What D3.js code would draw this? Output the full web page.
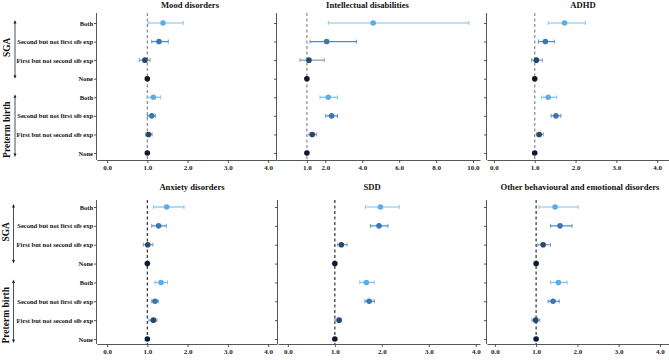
<!DOCTYPE html>
<html><head><meta charset="utf-8">
<script src="https://cdn.jsdelivr.net/npm/d3@7"></script>
<style>
body{margin:0;background:#fff;}
svg{display:block;font-family:"Liberation Serif","Times New Roman",serif;}
</style></head>
<body><div id="chart"></div>
<script>
// categories (top to bottom)
const groups=['SGA','Preterm birth'];
const levels=['Both','Second but not first sib exp','First but not second sib exp','None'];
const rows=groups.flatMap(g=>levels.map(l=>g+'|'+l));
const titles=['Mood disorders','Intellectual disabilities','ADHD','Anxiety disorders','SDD','Other behavioural and emotional disorders'];
const ticks=[[0,1,2,3,4],[1,2,4,6,8,10],[0,1,2,3,4],[0,1,2,3,4],[0,1,2,3,4],[0,1,2,3,4]];
// estimates, rows in order above (SGA Both..None, PTB Both..None)
const est=[
  [1.39,1.29,0.94,1,1.15,1.11,1.03,1],
  [4.59,2.07,1.11,1,2.16,2.34,1.29,1],
  [1.73,1.26,1.04,1,1.33,1.52,1.11,1],
  [1.48,1.28,1.01,1,1.34,1.19,1.15,1],
  [1.97,1.94,1.14,1,1.67,1.73,1.09,1],
  [1.46,1.58,1.17,1,1.54,1.41,0.99,1]
];
const lo=[
  [1.02,1.11,0.80,null,1.00,1.00,0.96,null],
  [2.16,1.17,0.63,null,1.71,2.02,1.11,null],
  [1.33,1.09,0.92,null,1.17,1.40,1.04,null],
  [1.15,1.11,0.90,null,1.19,1.11,1.04,null],
  [1.65,1.76,1.06,null,1.53,1.64,1.00,null],
  [1.07,1.35,1.04,null,1.35,1.29,0.90,null]
];
const hi=[
  [1.89,1.52,1.07,null,1.33,1.20,1.12,null],
  [9.78,3.69,1.94,null,2.66,2.66,1.53,null],
  [2.24,1.48,1.19,null,1.54,1.64,1.21,null],
  [1.91,1.47,1.14,null,1.50,1.27,1.24,null],
  [2.37,2.13,1.26,null,1.84,1.84,1.14,null],
  [2.02,1.87,1.35,null,1.75,1.56,1.09,null]
];

const W=669,H=360;
const ptCol={'Both':'#5aaee8','Second but not first sib exp':'#3a77b3','First but not second sib exp':'#244a72','None':'#0e1a2e'};
const barCol={'Both':'#7cc0f0','Second but not first sib exp':'#4f8cc6','First but not second sib exp':'#8197b0','None':'#0e1a2e'};
// panel layout: [x0,x1,domainLo,domainHi,titleDx]
const cols=[[97,277,-0.25,4.22,3],[277,480,-0.62,10.38,-11],[487,669,-0.17,4.29,5],
            [97,277,-0.25,4.22,5],[278,480,-0.21,4.09,-7],[487,669,-0.19,4.22,2]];
const rowsY=[{top:13,bot:160,r0:23,r1:153,ty:8,dash:'#8a8a8a'},{top:200,bot:344,r0:207,r1:339,ty:190,dash:'#333'}];

const svg=d3.select('#chart').append('svg').attr('width',W).attr('height',H);

titles.forEach((t,pi)=>{
  const [x0,x1,d0,d1,tdx]=cols[pi];
  const R=rowsY[Math.floor(pi/3)];
  const x=d3.scaleLinear().domain([d0,d1]).range([x0,x1]);
  const y=d3.scalePoint().domain(rows).range([R.r0,R.r1]);
  const g=svg.append('g');
  // left axis
  const ya=g.append('g').attr('transform',`translate(${x0},0)`)
    .call(d3.axisLeft(y).tickSize(3).tickFormat(''));
  ya.select('.domain').attr('d',`M-0.5,${R.top}V${R.bot}`);
  // bottom axis
  const xa=g.append('g').attr('transform',`translate(0,${R.bot})`)
    .call(d3.axisBottom(x).tickValues(ticks[pi]).tickSize(3).tickSizeOuter(0).tickFormat(d3.format('.1f')));
  [ya,xa].forEach(a=>{
    a.selectAll('.domain,line').attr('stroke','#444').attr('stroke-width',0.9);
    a.selectAll('text').attr('font-size',7).attr('font-weight','bold').attr('fill','#222').attr('font-family','Liberation Serif');
  });
  xa.selectAll('text').attr('y',5).attr('dy','0.71em');
  // reference line
  g.append('line').attr('x1',x(1)).attr('x2',x(1)).attr('y1',R.top).attr('y2',R.bot)
    .attr('stroke',R.dash).attr('stroke-width',1.2).attr('stroke-dasharray','3,2.5');
  // error bars & points
  rows.forEach((r,i)=>{
    const lv=r.split('|')[1],cy=y(r);
    if(lo[pi][i]!=null){
      const c=barCol[lv];
      g.append('line').attr('x1',x(lo[pi][i])).attr('x2',x(hi[pi][i])).attr('y1',cy).attr('y2',cy).attr('stroke',c).attr('stroke-width',1.2);
      [lo[pi][i],hi[pi][i]].forEach(v=>g.append('line').attr('x1',x(v)).attr('x2',x(v)).attr('y1',cy-2).attr('y2',cy+2).attr('stroke',c).attr('stroke-width',0.9));
    }
    g.append('circle').attr('cx',x(est[pi][i])).attr('cy',cy).attr('r',2.8).attr('fill',ptCol[lv]);
  });
  g.append('text').attr('x',(x0+x1)/2+tdx).attr('y',R.ty).attr('text-anchor','middle')
    .attr('font-size',8.6).attr('font-weight','bold').attr('fill','#111').text(t);
  // row labels and group labels on first column
  if(pi%3===0){
    rows.forEach(r=>{
      g.append('text').attr('x',x0-4).attr('y',y(r)+2.5).attr('text-anchor','end')
        .attr('font-size',6.5).attr('font-weight','bold').attr('fill','#111').text(r.split('|')[1]);
    });
    groups.forEach((gr,gi)=>{
      const ya0=y(gr+'|Both')-3,ya1=y(gr+'|None')+(gi?4:0);
      const ax=pi===0?15:13.5;
      g.append('line').attr('x1',ax).attr('x2',ax).attr('y1',ya0+2).attr('y2',ya1-2).attr('stroke','#222').attr('stroke-width',0.8);
      [[ya0,1],[ya1,-1]].forEach(([yy,s])=>g.append('path')
        .attr('d',`M${ax},${yy}L${ax-1.5},${yy+s*3.5}L${ax+1.5},${yy+s*3.5}Z`).attr('fill','#222'));
      const cy=gi===0?(ya0+ya1)/2-2:(ya0+ya1)/2+4;
      g.append('text').attr('transform',`translate(${ax-5},${cy}) rotate(-90)`).attr('text-anchor','middle')
        .attr('font-size',9.5).attr('font-weight','bold').attr('fill','#111').text(gr);
    });
  }
});
</script>
</body></html>
